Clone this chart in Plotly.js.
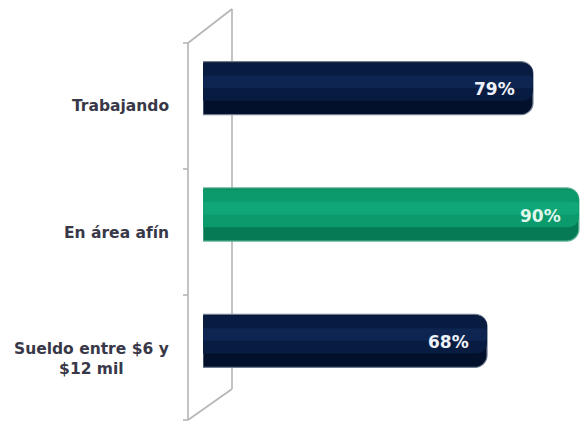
<!DOCTYPE html>
<html>
<head>
<meta charset="utf-8">
<script src="https://cdn.plot.ly/plotly-3.0.1.min.js"></script>
<style>html,body{margin:0;padding:0;background:#fff;}#chart{width:581px;height:422px;}</style>
</head>
<body>
<div id="chart"></div>
<script>
// ---- data ----
const categories = ['Trabajando', 'En área afín', 'Sueldo entre $6 y<br>$12 mil'];
const values = [79, 90, 68];
const valueLabels = ['79%', '90%', '68%'];
const baseColors = ['#03102b', '#067a54', '#03102b'];
const bodyColors = ['#081c42', '#0b9a6b', '#081c42'];
const bandColors = ['#0d2550', '#11a677', '#0d2550'];
const edgeColors = ['#6f7c90', '#5fb597', '#6f7c90'];

// ---- layout geometry ----
const W = 581, H = 422;
const M = {l: 203, r: 0, t: 25, b: 18};
const pw = W - M.l - M.r, ph = H - M.t - M.b;
const px = x => (x - M.l) / pw;
const py = y => (H - M.b - y) / ph;

const traces = [
  {type: 'bar', orientation: 'h', y: categories, x: values, width: 0.42,
   marker: {color: baseColors, cornerradius: 12, line: {color: edgeColors, width: 1.2}},
   hoverinfo: 'skip', showlegend: false},
  {type: 'bar', orientation: 'h', y: categories, x: values, width: 0.30, offset: -0.20,
   marker: {color: bodyColors, cornerradius: 10, line: {width: 0}},
   hoverinfo: 'skip', showlegend: false},
  {type: 'bar', orientation: 'h', y: categories, x: values, width: 0.10, offset: -0.10,
   marker: {color: bandColors, cornerradius: 4, line: {width: 0}},
   hoverinfo: 'skip', showlegend: false}
];

const lineStyle = {color: '#b5b5b5', width: 1.6};
const shapes = [
  {type: 'line', xref: 'paper', yref: 'paper', x0: px(188), y0: py(43), x1: px(188), y1: py(420), line: lineStyle, layer: 'below'},
  {type: 'line', xref: 'paper', yref: 'paper', x0: px(232), y0: py(9), x1: px(232), y1: py(389), line: lineStyle, layer: 'below'},
  {type: 'line', xref: 'paper', yref: 'paper', x0: px(188), y0: py(43), x1: px(232), y1: py(9), line: lineStyle, layer: 'below'},
  {type: 'line', xref: 'paper', yref: 'paper', x0: px(188), y0: py(420), x1: px(232), y1: py(389), line: lineStyle, layer: 'below'},
  {type: 'line', xref: 'paper', yref: 'paper', x0: px(183), y0: py(43), x1: px(188), y1: py(43), line: lineStyle},
  {type: 'line', xref: 'paper', yref: 'paper', x0: px(183), y0: py(169), x1: px(188), y1: py(169), line: lineStyle},
  {type: 'line', xref: 'paper', yref: 'paper', x0: px(183), y0: py(295), x1: px(188), y1: py(295), line: lineStyle},
  {type: 'line', xref: 'paper', yref: 'paper', x0: px(183), y0: py(420), x1: px(188), y1: py(420), line: lineStyle}
];

const annotations = [];
categories.forEach((c, i) => {
  annotations.push({xref: 'paper', yref: 'y', x: px(171), y: c, xanchor: 'right', yanchor: 'middle',
    text: c, showarrow: false, align: 'center', yshift: -18,
    font: {family: 'DejaVu Sans', size: 15.5, color: '#383848', weight: 'bold'}});
  annotations.push({xref: 'x', yref: 'y', x: values[i], y: c, xanchor: 'right', yanchor: 'middle',
    text: '<b>' + valueLabels[i] + '</b>', showarrow: false, xshift: -16, yshift: -1,
    font: {family: 'DejaVu Sans', size: 17, color: i === 1 ? '#dff7ec' : '#eef2f8'}});
});

const layout = {
  width: W, height: H,
  margin: M,
  paper_bgcolor: '#ffffff', plot_bgcolor: 'rgba(0,0,0,0)',
  barmode: 'overlay',
  xaxis: {range: [0, 90.5], visible: false, fixedrange: true},
  yaxis: {type: 'category', range: [2.5, -0.5], showticklabels: false, showgrid: false,
          zeroline: false, showline: false, ticks: '', fixedrange: true},
  shapes: shapes,
  annotations: annotations,
  showlegend: false
};

Plotly.newPlot('chart', traces, layout, {displayModeBar: false, staticPlot: true});
</script>
</body>
</html>
